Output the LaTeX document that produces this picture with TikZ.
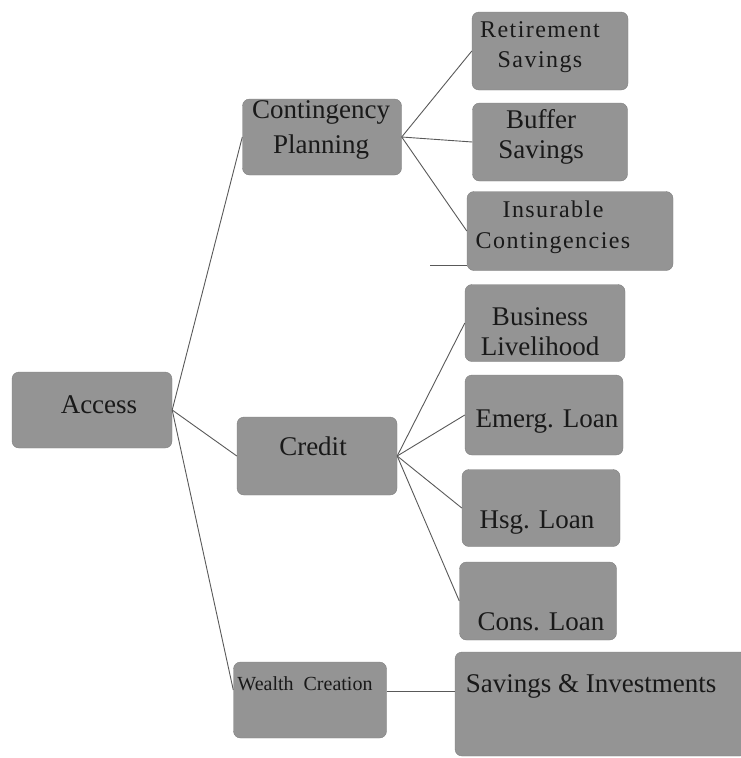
\documentclass[tikz,border=0pt]{standalone}
\usepackage{fontspec}
\setmainfont{Liberation Serif}
\usepackage{tikz}
\usetikzlibrary{positioning}

\begin{document}
\begin{tikzpicture}[x=1pt, y=-1pt,
    box/.style={draw=black!50, fill=black!42, rounded corners=7pt, inner sep=0pt},
    lbl/.style={text=black!90, inner sep=0pt, anchor=base, align=center, font=\fontsize{27}{30}\selectfont},
    link/.style={draw=black!65, line width=0.9pt}]
	\useasboundingbox (0,0) rectangle (741,758);
	
	\node[box, minimum width=160, minimum height=76] (access) at (92,410) {};
	\node[box, minimum width=159, minimum height=76] (conting) at (322,137) {};
	\node[box, minimum width=160, minimum height=78] (credit) at (317,456) {};
	\node[box, minimum width=153, minimum height=76] (wealth) at (310,700) {};
	
	\node[box, minimum width=156, minimum height=78] (retire) at (550,51) {};
	\node[box, minimum width=155, minimum height=78] (buffer) at (550,142) {};
	\node[box, minimum width=206, minimum height=79] (insur) at (570,231) {};
	\node[box, minimum width=160, minimum height=77] (business) at (545,323) {};
	\node[box, minimum width=158, minimum height=80] (emerg) at (544,415) {};
	\node[box, minimum width=158, minimum height=77] (hsg) at (541,508) {};
	\node[box, minimum width=157, minimum height=78] (cons) at (538,601) {};
	\node[box, minimum width=292, minimum height=104] (savinv) at (601,704) {};
	
	% two-line labels sit on the baseline of their last line
	\node[lbl] (accesstxt) at (99,413) {Access};
	\node[lbl, font=\fontsize{27}{35}\selectfont] (contingtxt) at (321,153) {Contingency\\Planning};
	\node[lbl] (credittxt) at (313,455) {Credit};
	\node[lbl, font=\fontsize{20}{22}\selectfont] (wealthtxt) at (305,690) {Wealth\ \ Creation};
	\node[lbl, font=\fontsize{24}{30}\selectfont\addfontfeatures{LetterSpace=6}] (retiretxt) at (540,67) {Retirement\\Savings};
	\node[lbl] (buffertxt) at (541,158) {Buffer\\Savings};
	\node[lbl, font=\fontsize{24}{31}\selectfont\addfontfeatures{LetterSpace=6}] (insurtxt) at (553,248) {Insurable\\Contingencies};
	\node[lbl] (businesstxt) at (540,355) {Business\\Livelihood};
	\node[lbl] (emergtxt) at (547,427) {Emerg. Loan};
	\node[lbl] (hsgtxt) at (537,528) {Hsg. Loan};
	\node[lbl] (constxt) at (541,630) {Cons. Loan};
	\node[lbl] (savinvtxt) at (591,692) {Savings \& Investments};
	
	\draw[link] (access.east) -- (conting.west);
	\draw[link] (access.east) -- (credit.west);
	\draw[link] (access.east) -- ([yshift=10pt]wealth.west);
	
	\foreach \n in {retire,buffer,insur}
		\draw[link] (conting.east) -- (\n.west);
	\foreach \n in {business,emerg,hsg,cons}
		\draw[link] (credit.east) -- (\n.west);
	
	\draw[link] ([yshift=9pt]wealth.east) -- ([yshift=9pt]wealth.east -| savinv.west);
	
	\coordinate (stub) at (430,265);
	\draw[link] (stub) -- (stub -| insur.west);
\end{tikzpicture}
\end{document}
